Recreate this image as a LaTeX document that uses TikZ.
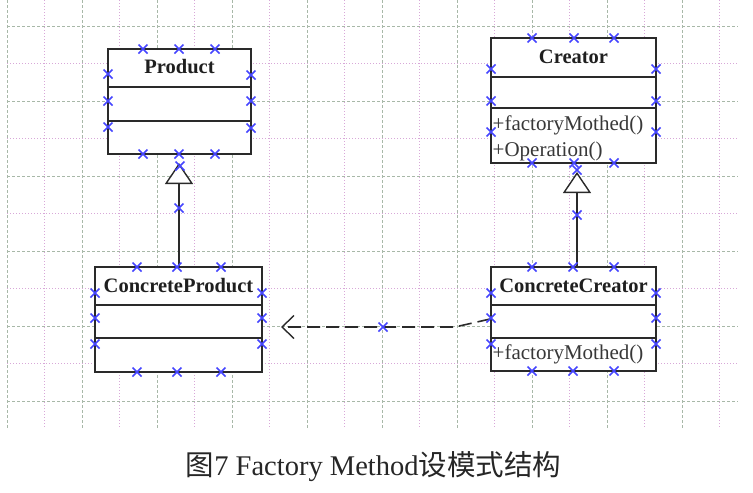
\documentclass[tikz,border=0pt]{standalone}
\usepackage{fontspec}
\setmainfont{Liberation Serif}
\newfontfamily\cjk{Noto Sans CJK SC}
\usetikzlibrary{arrows.meta,calc}
\definecolor{gridA}{HTML}{A8B8A8}
\definecolor{gridB}{HTML}{D8A8D8}
\definecolor{xblue}{HTML}{4545FF}
\definecolor{boxline}{HTML}{2A2A2A}
\tikzset{
  gridmajor/.style={gridA, line width=0.8pt, dash pattern=on 3pt off 2pt},
  gridminor/.style={gridB, line width=0.9pt, dash pattern=on 1pt off 2pt},
  classbox/.style={draw=boxline, line width=1.8pt, fill=white, inner sep=0pt},
  sepline/.style={boxline, line width=1.8pt},
  classtitle/.style={font=\fontsize{20.5}{24}\selectfont\bfseries, text=black!88, inner sep=1pt},
  method/.style={font=\fontsize{21}{24}\selectfont, text=black!78, inner sep=1pt, anchor=west},
  xmark/.style={xblue, line width=1.5pt},
  inherit/.style={boxline, line width=1.8pt, -{Triangle[open, length=21pt, width=28pt, line width=1.4pt, fill=white]}},
  depend/.style={boxline, line width=1.6pt, dash pattern=on 13pt off 6pt, -{Straight Barb[length=12pt, width=23pt, line width=1.4pt]}},
  caption/.style={font=\fontsize{28.5}{32}\selectfont, text=black!85, inner sep=0pt}
}
\begin{document}
\begin{tikzpicture}[x=1pt,y=-1pt]
\useasboundingbox (0,0) rectangle (753,493);
% grid
\foreach \k in {0,...,19}{
  \pgfmathsetmacro{\gx}{7+37.5*\k}
  \ifodd\k
    \draw[gridminor] (\gx,0) -- (\gx,428);
  \else
    \draw[gridmajor] (\gx,0) -- (\gx,428);
  \fi
}
\foreach \k in {0,...,10}{
  \pgfmathsetmacro{\gy}{26+37.5*\k}
  \ifodd\k
    \draw[gridminor] (7,\gy) -- (738,\gy);
  \else
    \draw[gridmajor] (7,\gy) -- (738,\gy);
  \fi
}
% class boxes
\node[classbox, minimum width=143pt, minimum height=105pt] (product) at (179.5,101.5) {};
\node[classbox, minimum width=165pt, minimum height=125pt] (creator) at (573.5,100.5) {};
\node[classbox, minimum width=167pt, minimum height=105pt] (cproduct) at (178.5,319.5) {};
\node[classbox, minimum width=165pt, minimum height=104pt] (ccreator) at (573.5,319) {};
% separators
\draw[sepline] (product.west |- 0,87) -- (product.east |- 0,87);
\draw[sepline] (product.west |- 0,121) -- (product.east |- 0,121);
\draw[sepline] (creator.west |- 0,77) -- (creator.east |- 0,77);
\draw[sepline] (creator.west |- 0,108) -- (creator.east |- 0,108);
\draw[sepline] (cproduct.west |- 0,305) -- (cproduct.east |- 0,305);
\draw[sepline] (cproduct.west |- 0,338) -- (cproduct.east |- 0,338);
\draw[sepline] (ccreator.west |- 0,305) -- (ccreator.east |- 0,305);
\draw[sepline] (ccreator.west |- 0,338) -- (ccreator.east |- 0,338);
% texts
\node[classtitle] (producttitle) at (179.5,67) {Product};
\node[classtitle] (creatortitle) at (573.5,57) {Creator};
\node[classtitle] (cproducttitle) at (178.5,286) {ConcreteProduct};
\node[classtitle] (ccreatortitle) at (573.5,286) {ConcreteCreator};
\node[method] (cm1) at (491.5,125) {+factoryMothed()};
\node[method] (cm2) at (491.5,151) {+Operation()};
\node[method] (ccm1) at (491.5,354) {+factoryMothed()};
% connectors
\coordinate (ptip) at (179,163);
\coordinate (pstart) at (179,267);
\draw[inherit] (pstart) -- (ptip);
\coordinate (ctip) at (577,172);
\coordinate (cstart) at (577,267);
\draw[inherit] (cstart) -- (ctip);
\coordinate (dbend) at (455,327);
\coordinate (dtip) at (281,327);
\draw[depend] (ccreator.west) -- (dbend) -- (dtip);
% cross markers
\foreach \x/\y in {143/49,179/49,215/49,143/154,179/154,215/154,
  108/74,108/101,108/127,251/75,251/101,251/128,180/166,179/208,
  532/38,574/38,614/38,532/163,574/163,614/163,
  491/69,491/101,491/132,656/69,656/101,656/132,577/170,577/215,
  137/267,177/267,221/267,137/372,177/372,221/372,
  95/293,95/318,95/344,262/293,262/318,262/344,
  532/267,573/267,614/267,532/371,573/371,614/371,
  491/293,491/318,491/344,656/293,656/318,656/344,383/327}{
  \draw[xmark] (\x-4.5,\y-4.5) -- (\x+4.5,\y+4.5) (\x-4.5,\y+4.5) -- (\x+4.5,\y-4.5);
}
% caption
\node[caption] (cap) at (373.5,467) {{\cjk 图}7 Factory Method{\cjk 设模式结构}};
\end{tikzpicture}
\end{document}
